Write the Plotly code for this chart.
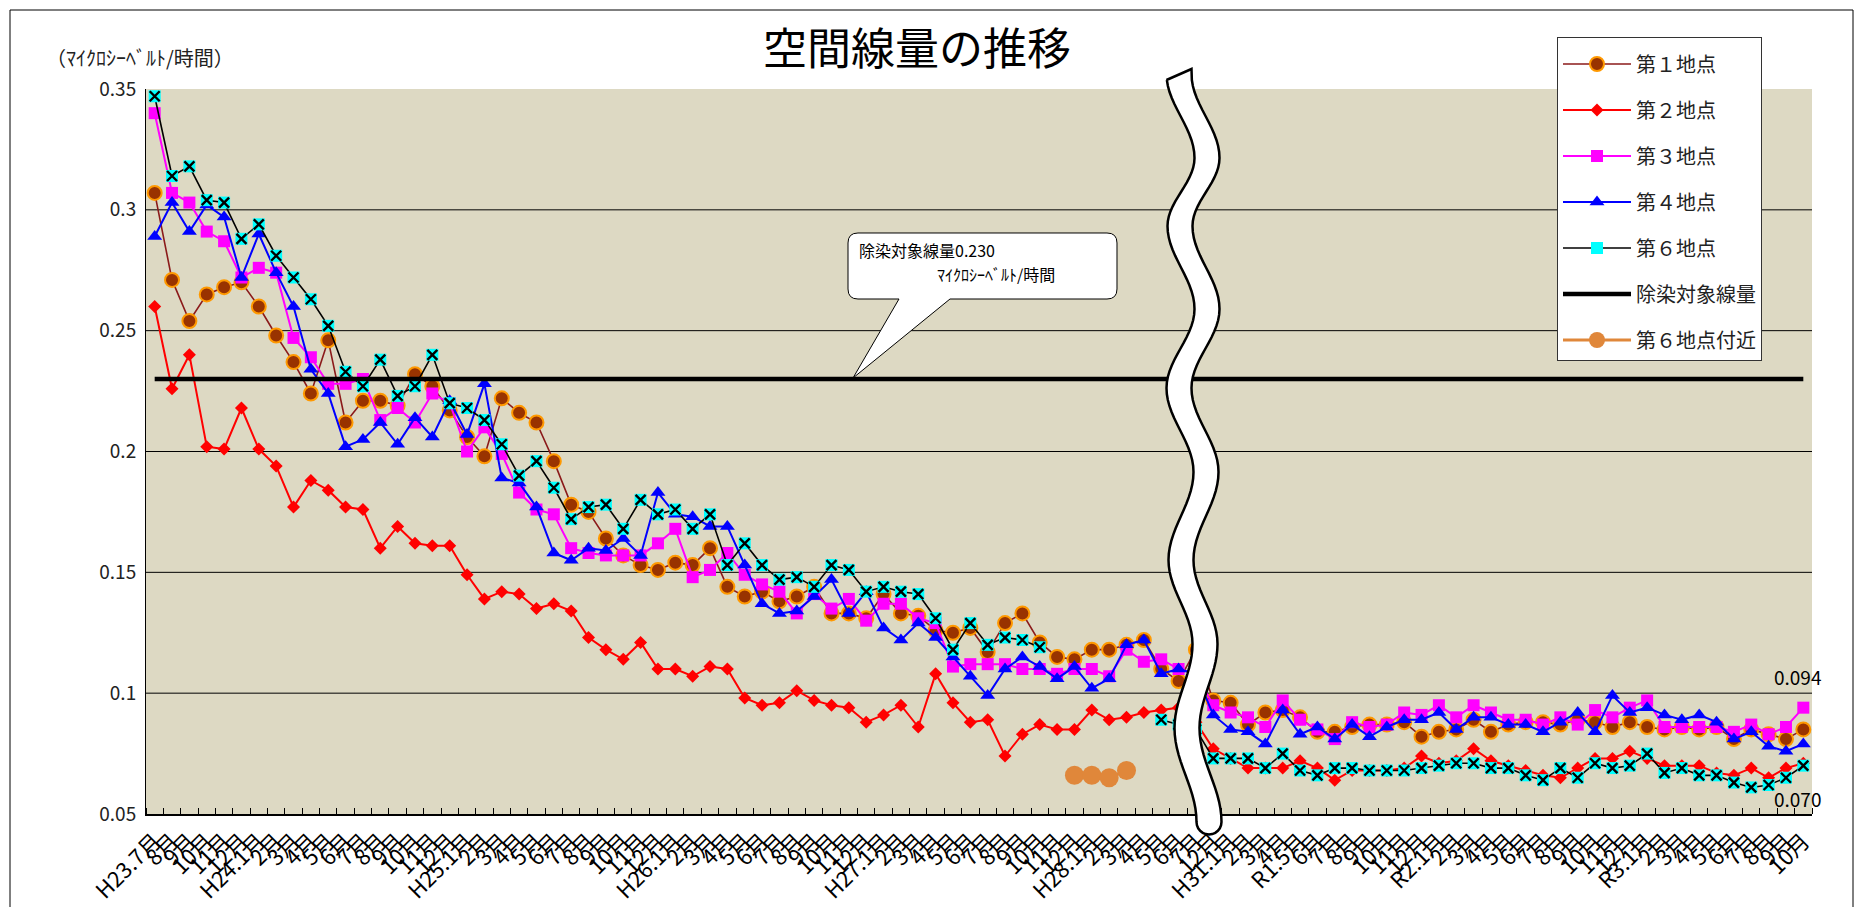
import math
import plotly.graph_objects as go

# ---------------- data ----------------
labels = [
    "H23.7月", "8月", "9月", "10月", "11月", "12月",
    "H24.1月", "2月", "3月", "4月", "5月", "6月", "7月", "8月", "9月", "10月", "11月", "12月",
    "H25.1月", "2月", "3月", "4月", "5月", "6月", "7月", "8月", "9月", "10月", "11月", "12月",
    "H26.1月", "2月", "3月", "4月", "5月", "6月", "7月", "8月", "9月", "10月", "11月", "12月",
    "H27.1月", "2月", "3月", "4月", "5月", "6月", "7月", "8月", "9月", "10月", "11月", "12月",
    "H28.1月", "2月", "3月", "4月", "5月", "6月", "7月", "12月",
    "H31.1月", "2月", "3月", "4月",
    "R1.5月", "6月", "7月", "8月", "9月", "10月", "11月", "12月",
    "R2.1月", "2月", "3月", "4月", "5月", "6月", "7月", "8月", "9月", "10月", "11月", "12月",
    "R3.1月", "2月", "3月", "4月", "5月", "6月", "7月", "8月", "9月", "10月",
]

site1 = [
    0.307, 0.271, 0.254, 0.265, 0.268, 0.270, 0.260, 0.248, 0.237, 0.224, 0.246, 0.212,
    0.221, 0.221, 0.219, 0.232, 0.227, 0.217, 0.206, 0.198, 0.222, 0.216, 0.212, 0.196,
    0.178, 0.175, 0.164, 0.157, 0.153, 0.151, 0.154, 0.153, 0.160, 0.144, 0.140, 0.142,
    0.138, 0.140, 0.144, 0.133, 0.133, 0.131, 0.141, 0.133, 0.132, 0.126, 0.125, 0.127,
    0.117, 0.129, 0.133, 0.121, 0.115, 0.114, 0.118, 0.118, 0.120, 0.122, 0.110, 0.105,
    0.118, 0.097, 0.096, 0.087, 0.092, 0.093, 0.090, 0.084, 0.084, 0.086, 0.087, 0.087,
    0.088, 0.082, 0.084, 0.085, 0.089, 0.084, 0.087, 0.088, 0.088, 0.087, 0.089, 0.088,
    0.086, 0.088, 0.086, 0.085, 0.086, 0.085, 0.086, 0.081, 0.085, 0.083, 0.081, 0.085,
]
site2 = [
    0.260, 0.226, 0.240, 0.202, 0.201, 0.218, 0.201, 0.194, 0.177, 0.188, 0.184, 0.177,
    0.176, 0.160, 0.169, 0.162, 0.161, 0.161, 0.149, 0.139, 0.142, 0.141, 0.135, 0.137,
    0.134, 0.123, 0.118, 0.114, 0.121, 0.110, 0.110, 0.107, 0.111, 0.110, 0.098, 0.095,
    0.096, 0.101, 0.097, 0.095, 0.094, 0.088, 0.091, 0.095, 0.086, 0.108, 0.096, 0.088,
    0.089, 0.074, 0.083, 0.087, 0.085, 0.085, 0.093, 0.089, 0.090, 0.092, 0.093, 0.094,
    0.088, 0.077, 0.073, 0.069, 0.069, 0.069, 0.072, 0.069, 0.064, 0.068, 0.068, 0.068,
    0.069, 0.074, 0.071, 0.072, 0.077, 0.072, 0.070, 0.068, 0.066, 0.065, 0.069, 0.073,
    0.073, 0.076, 0.073, 0.070, 0.070, 0.070, 0.067, 0.066, 0.069, 0.065, 0.069, 0.071,
]
site3 = [
    0.340, 0.307, 0.303, 0.291, 0.287, 0.272, 0.276, 0.274, 0.247, 0.239, 0.228, 0.228,
    0.230, 0.213, 0.218, 0.212, 0.224, 0.220, 0.200, 0.210, 0.199, 0.183, 0.176, 0.174,
    0.160, 0.158, 0.157, 0.157, 0.157, 0.162, 0.168, 0.148, 0.151, 0.158, 0.149, 0.145,
    0.142, 0.133, 0.141, 0.135, 0.139, 0.130, 0.137, 0.137, 0.131, 0.129, 0.111, 0.112,
    0.112, 0.112, 0.110, 0.110, 0.108, 0.110, 0.110, 0.107, 0.118, 0.113, 0.114, 0.110,
    0.108, 0.095, 0.092, 0.090, 0.086, 0.097, 0.089, 0.085, 0.081, 0.088, 0.086, 0.087,
    0.092, 0.091, 0.095, 0.090, 0.095, 0.092, 0.089, 0.089, 0.087, 0.090, 0.087, 0.093,
    0.090, 0.094, 0.097, 0.086, 0.086, 0.086, 0.086, 0.084, 0.087, 0.083, 0.086, 0.094,
]
site4 = [
    0.289, 0.303, 0.291, 0.302, 0.297, 0.272, 0.290, 0.274, 0.260, 0.234, 0.224, 0.202,
    0.205, 0.212, 0.203, 0.214, 0.206, 0.221, 0.207, 0.228, 0.189, 0.187, 0.177, 0.158,
    0.155, 0.160, 0.159, 0.164, 0.157, 0.183, 0.174, 0.173, 0.169, 0.169, 0.153, 0.137,
    0.133, 0.134, 0.140, 0.147, 0.133, 0.142, 0.127, 0.122, 0.129, 0.123, 0.115, 0.107,
    0.099, 0.110, 0.115, 0.111, 0.106, 0.111, 0.102, 0.106, 0.120, 0.122, 0.108, 0.110,
    0.108, 0.091, 0.085, 0.084, 0.079, 0.093, 0.083, 0.086, 0.081, 0.087, 0.082, 0.086,
    0.089, 0.089, 0.092, 0.085, 0.090, 0.090, 0.087, 0.087, 0.084, 0.088, 0.092, 0.084,
    0.099, 0.092, 0.094, 0.091, 0.089, 0.091, 0.088, 0.081, 0.084, 0.078, 0.076, 0.079,
]
site6 = [
    0.347, 0.314, 0.318, 0.304, 0.303, 0.288, 0.294, 0.281, 0.272, 0.263, 0.252, 0.233,
    0.227, 0.238, 0.223, 0.227, 0.240, 0.220, 0.218, 0.213, 0.203, 0.190, 0.196, 0.185,
    0.172, 0.177, 0.178, 0.168, 0.180, 0.174, 0.176, 0.168, 0.174, 0.153, 0.162, 0.153,
    0.147, 0.148, 0.144, 0.153, 0.151, 0.142, 0.144, 0.142, 0.141, 0.131, 0.118, 0.129,
    0.120, 0.123, 0.122, 0.119, None, None, None, None, None, None, 0.089, 0.087,
    0.085, 0.073, 0.073, 0.073, 0.069, 0.075, 0.068, 0.066, 0.069, 0.069, 0.068, 0.068,
    0.068, 0.069, 0.070, 0.071, 0.071, 0.069, 0.069, 0.066, 0.064, 0.069, 0.065, 0.071,
    0.069, 0.070, 0.075, 0.067, 0.069, 0.066, 0.066, 0.063, 0.061, 0.062, 0.065, 0.070,
]
near6 = [None] * 53 + [0.066, 0.066, 0.065, 0.068] + [None] * 39
target_value = 0.230
target = [target_value] * len(labels)

y_ticks = [0.05, 0.10, 0.15, 0.20, 0.25, 0.30, 0.35]
y_tick_text = ["0.05", "0.1", "0.15", "0.2", "0.25", "0.3", "0.35"]

# ---------------- geometry helpers ----------------
W, H = 1863, 907
L, R, T, B = 146, 51, 89, 93
PW = W - L - R
PH = H - T - B


def px(x):
    return (x - L) / PW


def py(y):
    return (H - B - y) / PH


def pt(x, y):
    return f"{px(x):.5f},{py(y):.5f}"


FONT = "Noto Sans CJK JP, Noto Sans, sans-serif"
idx = list(range(len(labels)))

fig = go.Figure()

# 第1地点
fig.add_trace(go.Scatter(
    x=idx, y=site1, name="第１地点", mode="lines+markers", legendgroup="g1",
    line=dict(color="#8B1A1A", width=1.6),
    marker=dict(symbol="circle", size=14, color="#993300", line=dict(color="#FF9900", width=2)),
))
# 第2地点
fig.add_trace(go.Scatter(
    x=idx, y=site2, name="第２地点", mode="lines+markers", legendgroup="g2",
    line=dict(color="#FF0000", width=2),
    marker=dict(symbol="diamond", size=10, color="#FF0000", line=dict(width=0)),
))
# 第3地点
fig.add_trace(go.Scatter(
    x=idx, y=site3, name="第３地点", mode="lines+markers", legendgroup="g3",
    line=dict(color="#FF00FF", width=2),
    marker=dict(symbol="square", size=12, color="#FF00FF", line=dict(width=0)),
))
# 第4地点
fig.add_trace(go.Scatter(
    x=idx, y=site4, name="第４地点", mode="lines+markers", legendgroup="g4",
    line=dict(color="#0000FF", width=2),
    marker=dict(symbol="triangle-up", size=13, color="#0000FF", line=dict(width=0)),
))
# 第6地点 (cyan square + black x)
fig.add_trace(go.Scatter(
    x=idx, y=site6, name="第６地点", mode="lines+markers", legendgroup="g6",
    line=dict(color="black", width=1.6),
    marker=dict(symbol="square", size=12, color="#00FFFF", line=dict(width=0)),
))
fig.add_trace(go.Scatter(
    x=idx, y=site6, name="第６地点", mode="markers", legendgroup="g6", showlegend=False,
    marker=dict(symbol="x-thin", size=10, color="black", line=dict(color="black", width=2.4)),
))
# 除染対象線量
fig.add_trace(go.Scatter(
    x=idx, y=target, name="除染対象線量", mode="lines", legendgroup="gt",
    line=dict(color="black", width=4.5),
))
# 第6地点付近
fig.add_trace(go.Scatter(
    x=idx, y=near6, name="第６地点付近", mode="lines+markers", legendgroup="gn",
    line=dict(color="#E0873A", width=3),
    marker=dict(symbol="circle", size=19, color="#E0873A", line=dict(width=0)),
))

shapes = []
# gridlines
for v in y_ticks[1:-1]:
    shapes.append(dict(type="line", xref="paper", x0=0, x1=1, yref="y", y0=v, y1=v,
                       line=dict(color="black", width=1), layer="below"))

# outer chart frame
shapes.append(dict(type="rect", xref="paper", yref="paper",
                   x0=px(10), x1=px(1853), y0=py(10), y1=py(930),
                   line=dict(color="black", width=1), fillcolor="rgba(0,0,0,0)", layer="above"))

# callout bubble
bx0, bx1, by0, by1, r = 848, 1117, 233, 299, 10
tail_a, tail_b, apex = 950, 899, (853, 378)
bubble = (
    f"M {pt(bx0 + r, by0)} L {pt(bx1 - r, by0)} Q {pt(bx1, by0)} {pt(bx1, by0 + r)} "
    f"L {pt(bx1, by1 - r)} Q {pt(bx1, by1)} {pt(bx1 - r, by1)} "
    f"L {pt(tail_a, by1)} L {pt(*apex)} L {pt(tail_b, by1)} "
    f"L {pt(bx0 + r, by1)} Q {pt(bx0, by1)} {pt(bx0, by1 - r)} "
    f"L {pt(bx0, by0 + r)} Q {pt(bx0, by0)} {pt(bx0 + r, by0)} Z"
)
shapes.append(dict(type="path", xref="paper", yref="paper", path=bubble,
                   fillcolor="white", line=dict(color="black", width=1), layer="above"))

# wavy axis-break band
ctrl = [(74, 1179), (158, 1207), (226, 1180), (309, 1207), (388, 1179), (472, 1206),
        (560, 1181), (644, 1205), (728, 1187), (822, 1209)]
cl = []
for (y0, x0), (y1, x1) in zip(ctrl[:-1], ctrl[1:]):
    n = 14
    for k in range(n):
        t = k / n
        cl.append((x0 + (x1 - x0) * (1 - math.cos(math.pi * t)) / 2, y0 + (y1 - y0) * t))
cl.append((ctrl[-1][1], ctrl[-1][0]))
hw = 12.5
left = [(x - hw, y) for x, y in cl]
right = [(x + hw, y) for x, y in cl]
left[0] = (left[0][0], left[0][1] + 6)
right[0] = (right[0][0], right[0][1] - 5)
cx, cy = ctrl[-1][1], ctrl[-1][0]
cap = [(cx + hw * math.cos(math.pi - math.pi * j / 12), cy + hw * math.sin(math.pi - math.pi * j / 12))
       for j in range(13)]
outline = left + cap + right[::-1]
band = "M " + " L ".join(pt(x, y) for x, y in outline) + " Z"
shapes.append(dict(type="path", xref="paper", yref="paper", path=band,
                   fillcolor="white", line=dict(color="black", width=2.5), layer="above"))

annotations = [
    dict(xref="paper", yref="paper", x=px(44), y=py(57), xanchor="left", yanchor="middle",
         text="（ﾏｲｸﾛｼｰﾍﾞﾙﾄ/時間）", showarrow=False, font=dict(size=20, color="#222")),
    dict(xref="paper", yref="paper", x=px(857), y=py(250), xanchor="left", yanchor="middle",
         text=f"除染対象線量{target_value:.3f}", showarrow=False, font=dict(size=16, color="black")),
    dict(xref="paper", yref="paper", x=px(996), y=py(274), xanchor="center", yanchor="middle",
         text="ﾏｲｸﾛｼｰﾍﾞﾙﾄ/時間", showarrow=False, font=dict(size=16, color="black")),
    dict(xref="x", yref="y", x=idx[-1], y=site3[-1], text=f"{site3[-1]:.3f}", showarrow=False,
         yshift=31, xshift=-6, font=dict(size=19, color="black")),
    dict(xref="x", yref="y", x=idx[-1], y=site6[-1], text=f"{site6[-1]:.3f}", showarrow=False,
         yshift=-33, xshift=-6, font=dict(size=19, color="black")),
]

fig.update_layout(
    width=W, height=H,
    margin=dict(l=L, r=R, t=T, b=B, autoexpand=False),
    paper_bgcolor="white", plot_bgcolor="#DDD9C3",
    font=dict(family=FONT, color="black"),
    title=dict(text="空間線量の推移", x=917 / W, xref="container", xanchor="center",
               y=1 - 50 / H, yref="container", yanchor="middle",
               font=dict(size=44, color="black", family=FONT)),
    showlegend=True,
    legend=dict(x=px(1557), y=py(37), xanchor="left", yanchor="top", bgcolor="white",
                bordercolor="#333", borderwidth=1, font=dict(size=20, color="#222"),
                itemwidth=68, tracegroupgap=17,
                title=dict(text=" ", font=dict(size=5))),
    xaxis=dict(range=[-0.5, len(labels) - 0.5], tickmode="array", tickvals=idx, ticktext=labels,
               tickangle=-45, ticks="", showgrid=False, zeroline=False, showline=True,
               linecolor="black", linewidth=1.5, tickfont=dict(size=22, color="black"),
               ticklabelstandoff=4,
               minor=dict(tickmode="array", tickvals=[i - 0.5 for i in range(len(labels) + 1)],
                          ticks="inside", ticklen=6, tickcolor="black", tickwidth=1, showgrid=False)),
    yaxis=dict(range=[0.05, 0.35], tickmode="array", tickvals=y_ticks, ticktext=y_tick_text,
               ticks="", showgrid=False, zeroline=False, showline=True, linecolor="black",
               linewidth=1, tickfont=dict(size=19, color="#222"), ticklabelstandoff=5),
    shapes=shapes,
    annotations=annotations,
)

fig.write_html("out.html", config={"displayModeBar": False},
               post_script="document.body.style.margin='0';document.body.style.overflow='hidden';")
